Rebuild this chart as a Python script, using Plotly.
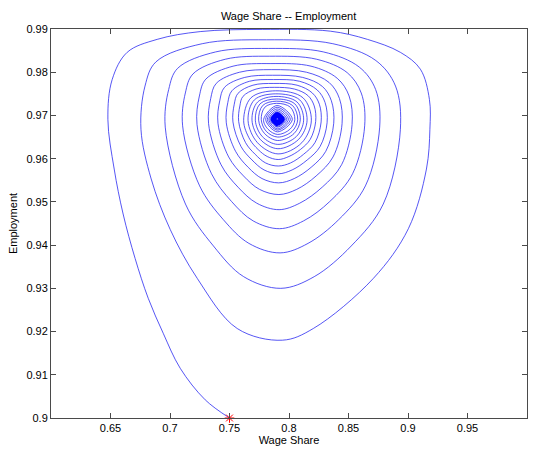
import plotly.graph_objects as go

# Trajectory of the wage share / employment rate system, one row per orbit
# (clockwise: left -> top -> right -> bottom), spiralling into the rest point.
wage_share = [
    0.7500, 0.7296, 0.7086, 0.6943, 0.6817, 0.6707, 0.6606, 0.6531,
    0.6478, 0.6514, 0.6640, 0.6892, 0.7254, 0.7775, 0.8347, 0.8659, 0.8936, 0.9104, 0.9180,
    0.9184, 0.9155, 0.9003, 0.8709, 0.8204, 0.7944, 0.7565, 0.7229, 0.7002, 0.6842,
    0.6756, 0.6790, 0.6882, 0.7271, 0.7810, 0.8368, 0.8730, 0.8895, 0.8936, 0.8792, 0.8523, 0.8212, 0.7931, 0.7619, 0.7365, 0.7130,
    0.6960, 0.6989, 0.7064, 0.7384, 0.7826, 0.8289, 0.8590, 0.8728, 0.8762, 0.8642, 0.8418, 0.8160, 0.7925, 0.7663, 0.7448, 0.7249,
    0.7106, 0.7129, 0.7193, 0.7464, 0.7838, 0.8233, 0.8489, 0.8607, 0.8636, 0.8534, 0.8343, 0.8122, 0.7920, 0.7699, 0.7517, 0.7349,
    0.7227, 0.7247, 0.7301, 0.7530, 0.7848, 0.8185, 0.8405, 0.8505, 0.8530, 0.8442, 0.8279, 0.8090, 0.7917, 0.7729, 0.7572, 0.7429,
    0.7324, 0.7342, 0.7388, 0.7584, 0.7856, 0.8147, 0.8338, 0.8424, 0.8446, 0.8370, 0.8228, 0.8065, 0.7915, 0.7752, 0.7618, 0.7493,
    0.7403, 0.7418, 0.7458, 0.7628, 0.7862, 0.8115, 0.8281, 0.8356, 0.8376, 0.8309, 0.8186, 0.8044, 0.7913, 0.7773, 0.7657, 0.7551,
    0.7473, 0.7486, 0.7520, 0.7667, 0.7868, 0.8090, 0.8237, 0.8303, 0.8320, 0.8261, 0.8153, 0.8027, 0.7911, 0.7790, 0.7689, 0.7597,
    0.7529, 0.7540, 0.7571, 0.7697, 0.7873, 0.8068, 0.8196, 0.8255, 0.8270, 0.8218, 0.8122, 0.8012, 0.7910, 0.7804, 0.7716, 0.7635,
    0.7577, 0.7587, 0.7613, 0.7723, 0.7876, 0.8047, 0.8159, 0.8212, 0.8224, 0.8179, 0.8095, 0.7999, 0.7909, 0.7817, 0.7741, 0.7670,
    0.7619, 0.7681, 0.7888, 0.8117, 0.8188, 0.8108, 0.7908, 0.7735,
    0.7656, 0.7709, 0.7889, 0.8090, 0.8152, 0.8082, 0.7907, 0.7757,
    0.7689, 0.7736, 0.7891, 0.8068, 0.8123, 0.8061, 0.7906, 0.7776,
    0.7717, 0.7757, 0.7893, 0.8048, 0.8095, 0.8042, 0.7905, 0.7795,
    0.7745, 0.7779, 0.7894, 0.8030, 0.8073, 0.8025, 0.7905, 0.7810,
    0.7767, 0.7797, 0.7895, 0.8012, 0.8049, 0.8008, 0.7905, 0.7824,
    0.7787, 0.7900, 0.8028, 0.7902,
    0.7804, 0.7900, 0.8011, 0.7902,
    0.7818, 0.7900, 0.7995, 0.7902,
    0.7831, 0.7900, 0.7981, 0.7902,
    0.7841, 0.7900, 0.7969, 0.7902,
    0.7851, 0.7900, 0.7959, 0.7902,
    0.7858, 0.7900, 0.7951, 0.7902,
    0.7865, 0.7900, 0.7943, 0.7902,
    0.7871, 0.7900, 0.7937, 0.7902,
    0.7876, 0.7900, 0.7931, 0.7902,
    0.7880, 0.7900, 0.7927, 0.7902,
    0.7883, 0.7900, 0.7923, 0.7902,
    0.7887, 0.7900, 0.7920, 0.7902,
    0.7889, 0.7900, 0.7916, 0.7902,
    0.7902,
]

employment = [
    0.9000, 0.9042, 0.9115, 0.9196, 0.9277, 0.9369, 0.9472, 0.9576,
    0.9691, 0.9783, 0.9846, 0.9876, 0.9894, 0.9899, 0.9895, 0.9876, 0.9846, 0.9807, 0.9737,
    0.9668, 0.9576, 0.9438, 0.9323, 0.9207, 0.9180, 0.9207, 0.9323, 0.9436, 0.9553,
    0.9668, 0.9768, 0.9824, 0.9866, 0.9875, 0.9866, 0.9827, 0.9768, 0.9668, 0.9495, 0.9398, 0.9327, 0.9300, 0.9327, 0.9398, 0.9495,
    0.9673, 0.9760, 0.9809, 0.9847, 0.9855, 0.9847, 0.9812, 0.9760, 0.9673, 0.9537, 0.9459, 0.9404, 0.9382, 0.9404, 0.9459, 0.9537,
    0.9676, 0.9752, 0.9796, 0.9830, 0.9837, 0.9830, 0.9799, 0.9752, 0.9676, 0.9565, 0.9501, 0.9456, 0.9438, 0.9456, 0.9501, 0.9565,
    0.9679, 0.9745, 0.9784, 0.9814, 0.9820, 0.9814, 0.9786, 0.9745, 0.9679, 0.9586, 0.9534, 0.9497, 0.9482, 0.9497, 0.9534, 0.9586,
    0.9681, 0.9739, 0.9774, 0.9800, 0.9806, 0.9800, 0.9776, 0.9739, 0.9681, 0.9604, 0.9560, 0.9529, 0.9517, 0.9529, 0.9560, 0.9604,
    0.9682, 0.9734, 0.9765, 0.9788, 0.9793, 0.9788, 0.9767, 0.9734, 0.9682, 0.9617, 0.9580, 0.9554, 0.9544, 0.9554, 0.9580, 0.9617,
    0.9683, 0.9730, 0.9757, 0.9779, 0.9783, 0.9779, 0.9759, 0.9730, 0.9683, 0.9628, 0.9597, 0.9574, 0.9565, 0.9574, 0.9597, 0.9628,
    0.9685, 0.9726, 0.9751, 0.9770, 0.9774, 0.9770, 0.9752, 0.9726, 0.9685, 0.9637, 0.9610, 0.9590, 0.9583, 0.9590, 0.9610, 0.9637,
    0.9686, 0.9722, 0.9744, 0.9761, 0.9765, 0.9761, 0.9746, 0.9722, 0.9686, 0.9645, 0.9621, 0.9605, 0.9598, 0.9605, 0.9621, 0.9645,
    0.9688, 0.9741, 0.9757, 0.9741, 0.9689, 0.9637, 0.9611, 0.9637,
    0.9688, 0.9736, 0.9750, 0.9736, 0.9689, 0.9645, 0.9623, 0.9645,
    0.9689, 0.9731, 0.9744, 0.9731, 0.9689, 0.9651, 0.9633, 0.9651,
    0.9689, 0.9727, 0.9738, 0.9727, 0.9690, 0.9658, 0.9642, 0.9658,
    0.9689, 0.9723, 0.9733, 0.9723, 0.9690, 0.9663, 0.9650, 0.9663,
    0.9690, 0.9719, 0.9728, 0.9719, 0.9690, 0.9668, 0.9656, 0.9668,
    0.9691, 0.9723, 0.9691, 0.9662,
    0.9691, 0.9719, 0.9691, 0.9666,
    0.9691, 0.9715, 0.9691, 0.9669,
    0.9691, 0.9711, 0.9691, 0.9673,
    0.9691, 0.9708, 0.9691, 0.9675,
    0.9691, 0.9706, 0.9691, 0.9678,
    0.9691, 0.9703, 0.9691, 0.9680,
    0.9691, 0.9702, 0.9691, 0.9681,
    0.9691, 0.9700, 0.9691, 0.9683,
    0.9691, 0.9699, 0.9691, 0.9684,
    0.9691, 0.9697, 0.9691, 0.9685,
    0.9691, 0.9696, 0.9691, 0.9686,
    0.9691, 0.9695, 0.9691, 0.9687,
    0.9691, 0.9695, 0.9691, 0.9688,
    0.9691,
]

# Initial condition
start_wage_share = [0.75]
start_employment = [0.90]

x_tick_values = [0.65, 0.7, 0.75, 0.8, 0.85, 0.9, 0.95]
x_tick_labels = ["0.65", "0.7", "0.75", "0.8", "0.85", "0.9", "0.95"]
y_tick_values = [0.9, 0.91, 0.92, 0.93, 0.94, 0.95, 0.96, 0.97, 0.98, 0.99]
y_tick_labels = ["0.9", "0.91", "0.92", "0.93", "0.94", "0.95", "0.96", "0.97", "0.98", "0.99"]

FONT = "Liberation Sans, Arial, sans-serif"
AXIS_COLOR = "#4a4a4a"
LINE_COLOR = "rgb(30,30,240)"

# the last, tightly wound orbits (roughly the final nine) are drawn a little
# heavier so they merge into the solid knot around the rest point
INNER_POINTS = 38

fig = go.Figure()

fig.add_trace(go.Scatter(
    x=wage_share, y=employment, mode="lines",
    line=dict(color=LINE_COLOR, width=0.75, shape="spline", smoothing=1.0),
    hoverinfo="skip", showlegend=False,
))

fig.add_trace(go.Scatter(
    x=wage_share[-INNER_POINTS:], y=employment[-INNER_POINTS:], mode="lines",
    line=dict(color="rgb(0,0,255)", width=1.5, shape="spline", smoothing=1.0),
    hoverinfo="skip", showlegend=False,
))

fig.add_trace(go.Scatter(
    x=start_wage_share, y=start_employment, mode="markers",
    marker=dict(symbol="asterisk-open", size=8, color="red",
                line=dict(color="red", width=1)),
    cliponaxis=False, showlegend=False,
))

axis_common = dict(
    showline=True, mirror="ticks", linecolor=AXIS_COLOR, linewidth=1,
    ticks="inside", ticklen=5, tickcolor=AXIS_COLOR, tickwidth=1,
    showgrid=False, zeroline=False,
    tickfont=dict(family=FONT, size=11, color="#000000"),
)

fig.update_layout(
    width=546, height=456,
    margin=dict(l=51, r=19, t=29, b=36),
    paper_bgcolor="white", plot_bgcolor="white",
    title=dict(text="Wage Share -- Employment", x=0.5285, xanchor="center",
               y=0.965, yanchor="middle",
               font=dict(family=FONT, size=11, color="#000000")),
    xaxis=dict(range=[0.6, 1.0], tickvals=x_tick_values, ticktext=x_tick_labels,
               title=dict(text="Wage Share", standoff=2,
                          font=dict(family=FONT, size=11, color="#000000")),
               **axis_common),
    yaxis=dict(range=[0.9, 0.99], tickvals=y_tick_values, ticktext=y_tick_labels,
               title=dict(text="Employment", standoff=6,
                          font=dict(family=FONT, size=11, color="#000000")),
               **axis_common),
)

fig.write_html("out.html")
